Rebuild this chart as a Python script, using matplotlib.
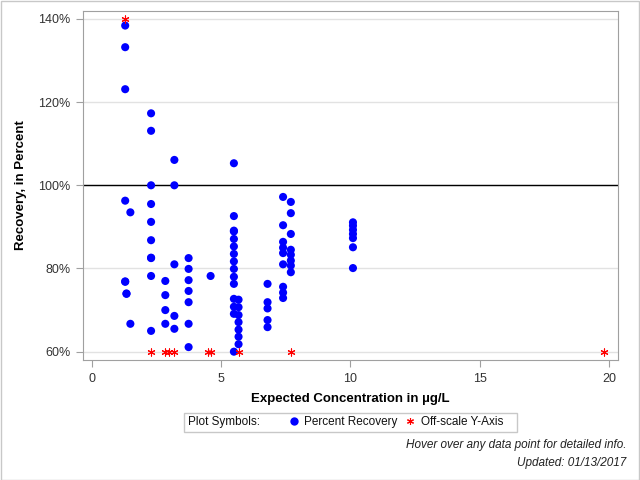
import matplotlib
matplotlib.use('Agg')
import matplotlib.pyplot as plt
from matplotlib.lines import Line2D
from matplotlib.patches import Rectangle

plt.rcParams['font.family'] = ['Liberation Sans', 'DejaVu Sans']

# percent recovery, grouped by expected concentration (ug/L)
conc_groups = [1.3, 1.35, 1.5, 2.3, 2.85, 3.2, 3.75, 4.6, 5.5, 5.68, 6.8, 7.4, 7.7, 10.1]
recovery_groups = [
    [138.4, 133.2, 123.1, 96.3, 76.8, 76.9],
    [73.9, 74.0],
    [93.5, 66.7],
    [117.3, 113.1, 100.0, 95.5, 91.2, 86.8, 82.5, 82.6, 78.2, 65.0],
    [77.0, 73.6, 70.0, 66.7],
    [106.1, 100.0, 81.0, 68.6, 65.5],
    [82.5, 79.9, 77.2, 74.6, 71.9, 66.7, 61.1],
    [78.2],
    [105.3, 92.6, 89.1, 88.9, 87.1, 85.3, 83.5, 81.7, 79.9, 78.0, 76.3, 72.7, 70.8, 69.1, 60.0],
    [72.5, 70.7, 68.8, 67.1, 65.3, 63.6, 61.8],
    [76.3, 71.9, 70.4, 67.6, 65.9],
    [97.2, 90.4, 86.4, 85.0, 83.7, 81.0, 75.6, 74.2, 72.9],
    [96.0, 93.3, 88.3, 84.5, 83.3, 81.9, 80.7, 79.1],
    [91.1, 90.3, 89.3, 88.3, 87.3, 85.1, 80.1],
]

# off-scale values, drawn at the axis limit
offscale_conc = [1.3, 2.3, 2.85, 3.0, 3.2, 4.5, 4.6, 5.68, 7.7, 19.8]
offscale_pct = [140, 60, 60, 60, 60, 60, 60, 60, 60, 60]

y_ticks = [60, 80, 100, 120, 140]
x_ticks = [0, 5, 10, 15, 20]

conc = []
recovery = []
for c, vals in zip(conc_groups, recovery_groups):
    conc += [c] * len(vals)
    recovery += vals

fig = plt.figure(figsize=(6.4, 4.8), dpi=100)
ax = fig.add_axes([83 / 640, 1 - 360 / 480, (618 - 83) / 640, (360 - 11) / 480])

ax.axhline(100, color='black', lw=1, zorder=1)
ax.scatter(conc, recovery, s=34, color='#0000ff', edgecolors='none', zorder=3)
ax.scatter(offscale_conc, offscale_pct, s=26, marker=(6, 2, 0), color='#ff0000',
           linewidths=0.8, zorder=4)

ax.set_xlim(-0.33, 20.34)
ax.set_ylim(58.0, 141.9)
ax.set_xticks(x_ticks)
ax.set_yticks(y_ticks)
ax.set_yticklabels([f'{v}%' for v in y_ticks])
ax.grid(axis='y', color='#e2e2e2', lw=1, zorder=0)
ax.set_axisbelow(True)

for s in ax.spines.values():
    s.set_color('#a0a0a0')
ax.tick_params(colors='#a0a0a0', labelcolor='#333333', labelsize=9, length=5, pad=4)

ax.set_xlabel('Expected Concentration in µg/L', fontsize=9.5, fontweight='bold', labelpad=6)
ax.set_ylabel('Recovery, in Percent', fontsize=9.5, fontweight='bold', labelpad=8)

# legend box: frame, caption, then the two symbols
fig.patches.append(Rectangle((184 / 640, 1 - 432 / 480), (517 - 184) / 640, 19 / 480,
                             transform=fig.transFigure, fill=False,
                             edgecolor='#c8c8c8', lw=1))
fig.text(188 / 640, 1 - 422 / 480, 'Plot Symbols:', ha='left', va='center',
         fontsize=8.5, color='#111111')
dot = Line2D([], [], linestyle='none', marker='o', markersize=6, color='#0000ff', markeredgewidth=0)
star = Line2D([], [], linestyle='none', marker=(6, 2, 0), markersize=5, color='#ff0000',
              markeredgewidth=0.8)
leg = fig.legend([dot, star], ['Percent Recovery', 'Off-scale Y-Axis'],
                 ncol=2, loc='center left', bbox_to_anchor=(289 / 640, 1 - 422 / 480),
                 fontsize=8.5, frameon=False, handlelength=0.8, handletextpad=0.5,
                 columnspacing=0.65, borderpad=0, borderaxespad=0)
for t in leg.get_texts():
    t.set_color('#111111')

fig.text(626 / 640, 1 - 445 / 480, 'Hover over any data point for detailed info.',
         ha='right', va='center', fontsize=8.5, style='italic', color='#222222')
fig.text(626 / 640, 1 - 463 / 480, 'Updated: 01/13/2017',
         ha='right', va='center', fontsize=8.5, style='italic', color='#222222')

fig.patches.append(Rectangle((0.5 / 640, 0.5 / 480), 638.5 / 640, 478.5 / 480,
                             transform=fig.transFigure, fill=False,
                             edgecolor='#c8c8c8', lw=1))

fig.savefig('out.png', dpi=100)
